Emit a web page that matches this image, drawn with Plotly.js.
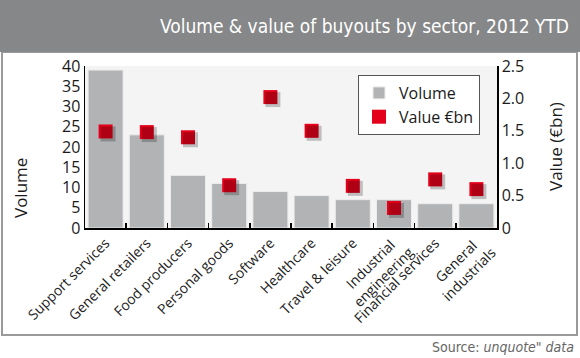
<!DOCTYPE html>
<html><head><meta charset="utf-8">
<script src="https://cdn.plot.ly/plotly-3.0.1.min.js"></script>
<style>html,body{margin:0;padding:0;background:#fff}#c{width:580px;height:358px}</style>
</head><body><div id="c"></div>
<script>
const sectors = ["Support services","General retailers","Food producers","Personal goods","Software","Healthcare","Travel & leisure","Industrial<br>engineering","Financial services","General<br>industrials"];
const volume = [39, 23, 13, 11, 9, 8, 7, 7, 6, 6];
const valueBn = [1.49, 1.48, 1.40, 0.66, 2.02, 1.50, 0.65, 0.31, 0.75, 0.60];
const leftTicks = [0,5,10,15,20,25,30,35,40];
const rightTickVals = [0,0.5,1.0,1.5,2.0,2.5];
const rightTickText = ["0","0.5","1.0","1.5","2.0","2.5"];

const L=85, R=497, T=66, B=228, W=580, H=358;
const px = x => (x-L)/(R-L);
const py = y => (B-y)/(B-T);
const font = "'Open Sans', 'Noto Sans', sans-serif";
const narrow = "'DejaVu Sans Condensed', 'DejaVu Sans', sans-serif";
const nCat = sectors.length;
const catPx = (R-L)/nCat;
const dX = 2.5/catPx;
const dY = 2.5*2.5/(B-T);

// single-line labels drawn as ticks; multi-line labels as annotations (centred block)
const tickText = sectors.map(s => s.includes("<br>") ? "" : s);
const multiLabels = sectors.filter(s => s.includes("<br>")).map(s => ({
  xref:"x", yref:"paper", x:s, y:py(227), xanchor:"right", yanchor:"top",
  xshift:26, textangle:-45, align:"center", showarrow:false, text:s,
  font:{size:14, family:font, color:"#222"}
}));

const traces = [
  {type:"bar", name:"Volume", x:sectors, y:volume, xaxis:"x", yaxis:"y",
   marker:{color:"#b2b3b5", line:{color:"#ececec", width:1}}},
  {type:"scatter", mode:"markers", name:"shadow", showlegend:false, x:sectors, y:valueBn, xaxis:"x2", yaxis:"y3",
   marker:{symbol:"square", size:15, color:"rgba(0,0,0,0.22)"}, hoverinfo:"skip"},
  {type:"scatter", mode:"markers", name:"Value €bn", x:sectors, y:valueBn, xaxis:"x", yaxis:"y2",
   marker:{symbol:"square", size:14, color:"#e2001a"}}
];

const layout = {
  width:W, height:H,
  margin:{l:L, r:W-R, t:T, b:H-B},
  paper_bgcolor:"#ffffff", plot_bgcolor:"#f4f4f4",
  font:{family:font, color:"#1a1a1a"},
  bargap:0.15,
  showlegend:true,
  legend:{x:px(358), y:py(75), xanchor:"left", yanchor:"top", bgcolor:"#ffffff",
    bordercolor:"#555555", borderwidth:1, font:{size:16, family:font, color:"#1a1a1a"}},
  xaxis:{type:"category", range:[-0.5, nCat-0.5], tickangle:-45, tickfont:{size:14, family:font, color:"#222"},
    tickvals:sectors, ticktext:tickText,
    ticks:"inside", tickson:"boundaries", ticklen:5, tickwidth:1.5, tickcolor:"#000",
    showline:true, linecolor:"#000", linewidth:1.5, showgrid:false, zeroline:false, layer:"above traces"},
  xaxis2:{type:"category", overlaying:"x", range:[-0.5 - dX, nCat - 0.5 - dX], visible:false},
  yaxis:{range:[0,40], tickvals:leftTicks, tickfont:{size:16, family:font, color:"#1a1a1a"},
    showline:true, linecolor:"#000", linewidth:1.5, showgrid:false, zeroline:false, ticks:""},
  yaxis2:{range:[0,2.5], overlaying:"y", side:"right", tickvals:rightTickVals, ticktext:rightTickText,
    tickfont:{size:16, family:font, color:"#1a1a1a"},
    showline:true, linecolor:"#000", linewidth:1.5, showgrid:false, zeroline:false, ticks:""},
  yaxis3:{range:[dY, 2.5+dY], overlaying:"y", visible:false},
  shapes:[
    {type:"rect", xref:"paper", yref:"paper", x0:px(2), x1:px(577), y0:py(335), y1:py(52),
     line:{color:"#9a9a9a", width:2}, fillcolor:"rgba(0,0,0,0)", layer:"below"},
    {type:"rect", xref:"paper", yref:"paper", x0:px(0), x1:px(580), y0:py(52), y1:py(0),
     line:{width:0}, fillcolor:"#868789", layer:"above"}
  ],
  annotations:[
    {xref:"paper", yref:"paper", x:px(571), y:py(26), xanchor:"right", yanchor:"middle", showarrow:false,
     text:"Volume & value of buyouts by sector, 2012 YTD",
     font:{size:19, family:narrow, color:"#ffffff"}},
    {xref:"paper", yref:"paper", x:px(20), y:py(188), textangle:-90, showarrow:false,
     xanchor:"center", yanchor:"middle", text:"Volume", font:{size:17, family:font, color:"#1a1a1a"}},
    {xref:"paper", yref:"paper", x:px(555), y:py(147), textangle:-90, showarrow:false,
     xanchor:"center", yanchor:"middle", text:"Value (€bn)", font:{size:17, family:font, color:"#1a1a1a"}},
    {xref:"paper", yref:"paper", x:px(576), y:py(347), xanchor:"right", yanchor:"middle", showarrow:false,
     text:"Source: <i>unquote\" data</i>",
     font:{size:14, family:narrow, color:"#666"}}
  ].concat(multiLabels)
};
Plotly.newPlot("c", traces, layout, {displayModeBar:false, staticPlot:true});
</script></body></html>
